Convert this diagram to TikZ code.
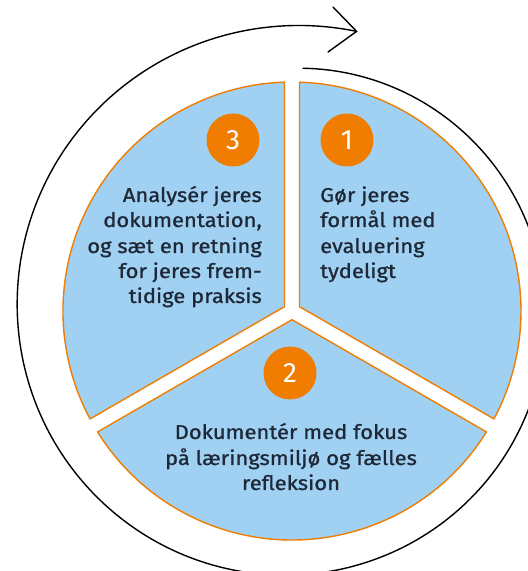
\documentclass[tikz,border=0pt]{standalone}
\usepackage{fontspec}
\usetikzlibrary{calc}
\setmainfont{Fira Sans}
\newfontfamily\lblfont{Fira Sans}[FakeStretch=1.1,FakeBold=0.9]
\definecolor{pieblue}{RGB}{160,209,242}
\definecolor{pieorange}{RGB}{240,125,0}
\definecolor{txt}{RGB}{30,40,55}
\begin{document}
\begin{tikzpicture}[x=1pt,y=1pt,
  sector/.style={fill=pieblue,draw=pieorange,line width=1.4pt,line join=round},
  badge/.style={circle,fill=pieorange,minimum size=53pt,inner sep=0pt,text=white,font=\fontsize{28}{30}\selectfont},
  lbl/.style={inner sep=0pt,text=txt,font=\lblfont\fontsize{20}{25}\selectfont},
  spiral/.style={line width=1.4pt,black}]
\useasboundingbox (0,0) rectangle (528,571);
\coordinate (c) at (292,260);
% sectors
\foreach \b in {30,150,270}{
  \filldraw[sector] ($(c)+(\b:8.66)$) -- ($(c)+(\b+58.12:229)$)
     arc[start angle=\b+58.12,end angle=\b-58.12,radius=229] -- cycle;
}
% spiral arrow
\draw[spiral,line cap=round] plot[domain=87.4:-283,samples=360,variable=\t]
  ({292+(243+44*(87.4-\t)/370.4)*cos(\t)},{260+(243+44*(87.4-\t)/370.4)*sin(\t)});
\coordinate (tip) at (356.6,539.6);
\coordinate (armA) at (333,564);
\coordinate (armB) at (328,519);
\draw[spiral,line cap=round,line join=miter] (armA) -- (tip) -- (armB);
% badges
\node[badge] (b3) at (233,431) {3};
\node[badge] (b1) at (347,431) {1};
\node[badge] (b2) at (290,198) {2};
% texts sector 3
\node[lbl,anchor=base east] (t3a) at (262,369) {Analysér jeres};
\node[lbl,anchor=base east] (t3b) at (262,344) {dokumentation,};
\node[lbl,anchor=base east] (t3c) at (262,318) {og sæt en retning};
\node[lbl,anchor=base east] (t3d) at (262,293) {for jeres frem-};
\node[lbl,anchor=base east] (t3e) at (262,268) {tidige praksis};
% texts sector 1
\node[lbl,anchor=base west] (t1a) at (320,369) {Gør jeres};
\node[lbl,anchor=base west] (t1b) at (320,344) {formål med};
\node[lbl,anchor=base west] (t1c) at (320,318) {evaluering};
\node[lbl,anchor=base west] (t1d) at (320,293) {tydeligt};
% texts sector 2
\node[lbl,anchor=base] (t2a) at (291,132) {Dokumentér med fokus};
\node[lbl,anchor=base] (t2b) at (291,106) {på læringsmiljø og fælles};
\node[lbl,anchor=base] (t2c) at (291,81) {refleksion};
\end{tikzpicture}
\end{document}
